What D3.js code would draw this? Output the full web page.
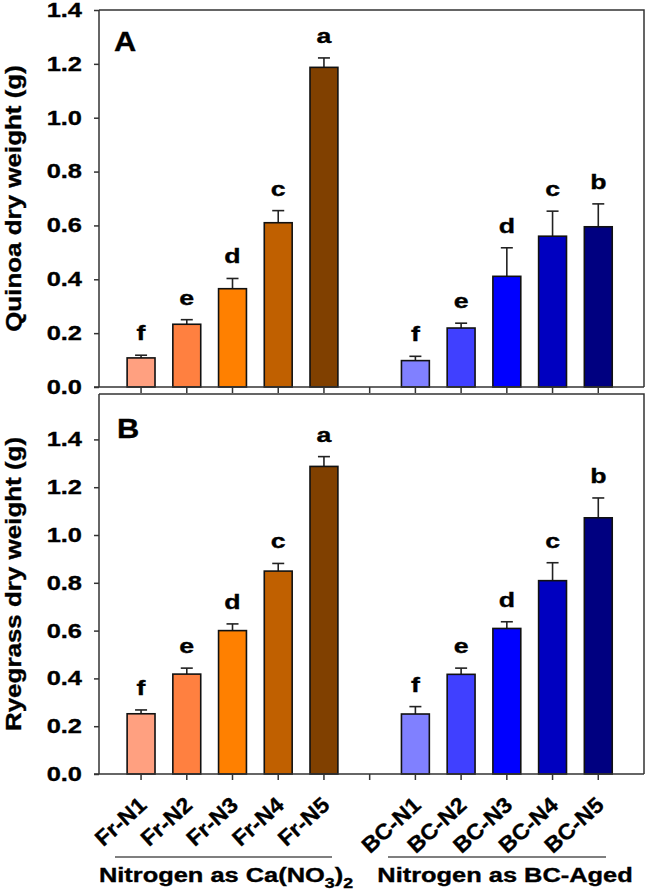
<!DOCTYPE html>
<html><head><meta charset="utf-8">
<script src="https://cdn.jsdelivr.net/npm/d3@7"></script>
<style>
body{margin:0;background:#fff}
text{font-family:"Liberation Sans",Arial,sans-serif;font-weight:bold;fill:#000;stroke:#000;stroke-width:0.35px}
</style>
</head><body><svg id="c" width="645" height="894"></svg>
<script>
// ---- data ----
const categories = ["Fr-N1","Fr-N2","Fr-N3","Fr-N4","Fr-N5","BC-N1","BC-N2","BC-N3","BC-N4","BC-N5"];
const slotIndex = [0,1,2,3,4,6,7,8,9,10];   // slot 5 is the empty gap
const barColors = ["#FFA080","#FF8040","#FF8000","#C06000","#804000","#8080FF","#4040FF","#0000FF","#0000C0","#000080"];
const quinoaMean = [0.108,0.233,0.365,0.610,1.187,0.098,0.219,0.411,0.560,0.595];
const quinoaErr  = [0.010,0.017,0.038,0.045,0.035,0.016,0.018,0.106,0.093,0.085];
const quinoaLetters = ["f","e","d","c","a","f","e","d","c","b"];
const ryegrassMean = [0.252,0.418,0.600,0.849,1.287,0.251,0.417,0.609,0.809,1.072];
const ryegrassErr  = [0.016,0.025,0.028,0.032,0.041,0.031,0.026,0.028,0.075,0.083];
const ryegrassLetters = ["f","e","d","c","a","f","e","d","c","b"];
const yTicks = [0,0.2,0.4,0.6,0.8,1.0,1.2,1.4];
const panelLabels = ["A","B"];
const yTitles = ["Quinoa dry weight (g)","Ryegrass dry weight (g)"];

// ---- layout ----
const svg = d3.select("#c");
const L = 99, R = 644;
const SX = 1.27; // horizontal text stretch
const x = d3.scaleLinear().domain([-0.92, 11]).range([L, R]);
const step = x(1) - x(0);
const barW = 0.61 * step;

const panels = [
  {top:10,  bottom:387, ymax:1.4,  mean:quinoaMean,   err:quinoaErr,   letters:quinoaLetters,   label:panelLabels[0], title:yTitles[0], lx:114, ly:51},
  {top:394, bottom:774, ymax:1.59, mean:ryegrassMean, err:ryegrassErr, letters:ryegrassLetters, label:panelLabels[1], title:yTitles[1], lx:117, ly:438}
];

panels.forEach((p, pi) => {
  const y = d3.scaleLinear().domain([0, p.ymax]).range([p.bottom, p.top]);
  const g = svg.append("g");

  // frame (top, right)
  g.append("path")
    .attr("d", `M${L},${p.top}H${R}V${p.bottom}`)
    .attr("fill","none").attr("stroke","#333").attr("stroke-width",1.5);

  const data = categories.map((c,i)=>({c, i:slotIndex[i], v:p.mean[i], e:p.err[i], l:p.letters[i], col:barColors[i]}));
  // error bars
  g.selectAll("line.err").data(data).join("line")
    .attr("x1",d=>x(d.i)).attr("x2",d=>x(d.i))
    .attr("y1",d=>y(d.v)).attr("y2",d=>y(d.v+d.e))
    .attr("stroke","#222").attr("stroke-width",1.6);
  g.selectAll("line.cap").data(data).join("line")
    .attr("x1",d=>x(d.i)-6).attr("x2",d=>x(d.i)+6)
    .attr("y1",d=>y(d.v+d.e)).attr("y2",d=>y(d.v+d.e))
    .attr("stroke","#222").attr("stroke-width",1.6);
  // bars
  g.selectAll("rect.bar").data(data).join("rect")
    .attr("x",d=>x(d.i)-barW/2).attr("width",barW)
    .attr("y",d=>y(d.v)).attr("height",d=>y(0)-y(d.v))
    .attr("fill",d=>d.col).attr("stroke","#111").attr("stroke-width",1.6);

  // significance letters
  g.selectAll("g.let").data(data).join("g")
    .attr("transform",d=>`translate(${x(d.i)},${y(d.v+d.e)-15}) scale(${SX},1)`)
    .append("text").attr("text-anchor","middle").attr("font-size",21).text(d=>d.l);

  // y axis
  const ya = g.append("g").attr("transform",`translate(${L},0)`)
    .call(d3.axisLeft(y).tickValues(yTicks).tickFormat(d3.format(".1f")).tickSize(5).tickPadding(12));
  ya.select(".domain").attr("stroke","#333").attr("stroke-width",1.5).attr("d",`M0,${p.top}V${p.bottom}`);
  ya.selectAll(".tick line").attr("stroke","#333").attr("stroke-width",1.5);
  ya.selectAll(".tick text").attr("font-size",20).attr("font-family",null)
    .attr("x", -17/SX).attr("transform",`scale(${SX},1)`);

  // x axis
  const xa = g.append("g").attr("transform",`translate(0,${p.bottom})`);
  xa.append("line").attr("x1",L-5).attr("x2",R).attr("y1",0).attr("y2",0)
    .attr("stroke","#333").attr("stroke-width",1.5);
  xa.selectAll("line.xt").data(d3.range(0,11)).join("line")
    .attr("x1",d=>x(d)).attr("x2",d=>x(d)).attr("y1",0).attr("y2",6)
    .attr("stroke","#333").attr("stroke-width",1.5);

  // panel label
  g.append("g").attr("transform",`translate(${p.lx},${p.ly}) scale(1.1,1)`)
    .append("text").attr("font-size",28).text(p.label);

  // y title
  g.append("g").attr("transform",`translate(20.5,${(p.top+p.bottom)/2}) rotate(-90) scale(1.18,1)`)
    .append("text").attr("text-anchor","middle").attr("font-size",22).text(p.title);

  // category labels (bottom panel only)
  if (pi === 1) {
    svg.selectAll("g.cat").data(data).join("g")
      .attr("transform",d=>`translate(${x(d.i)+7},${p.bottom+33}) rotate(-42) scale(1.05,1)`)
      .append("text").attr("text-anchor","end").attr("font-size",22).text(d=>d.c);
  }
});

// group lines & labels
const groups = [
  {x1:115, x2:332, cx:226},
  {x1:388, x2:606, cx:505}
];
groups.forEach(gr=>{
  svg.append("line").attr("x1",gr.x1).attr("x2",gr.x2).attr("y1",857).attr("y2",857)
    .attr("stroke","#555").attr("stroke-width",1.5);
});
const gl1 = svg.append("g").attr("transform",`translate(${groups[0].cx},882) scale(${SX},1)`)
  .append("text").attr("text-anchor","middle").attr("font-size",20);
gl1.append("tspan").text("Nitrogen as Ca(NO");
gl1.append("tspan").attr("font-size",14).attr("dy",6).text("3");
gl1.append("tspan").attr("dy",-6).text(")");
gl1.append("tspan").attr("font-size",14).attr("dy",6).text("2");
svg.append("g").attr("transform",`translate(${groups[1].cx},882) scale(${SX},1)`)
  .append("text").attr("text-anchor","middle").attr("font-size",20).text("Nitrogen as BC-Aged");
</script>
</body></html>
